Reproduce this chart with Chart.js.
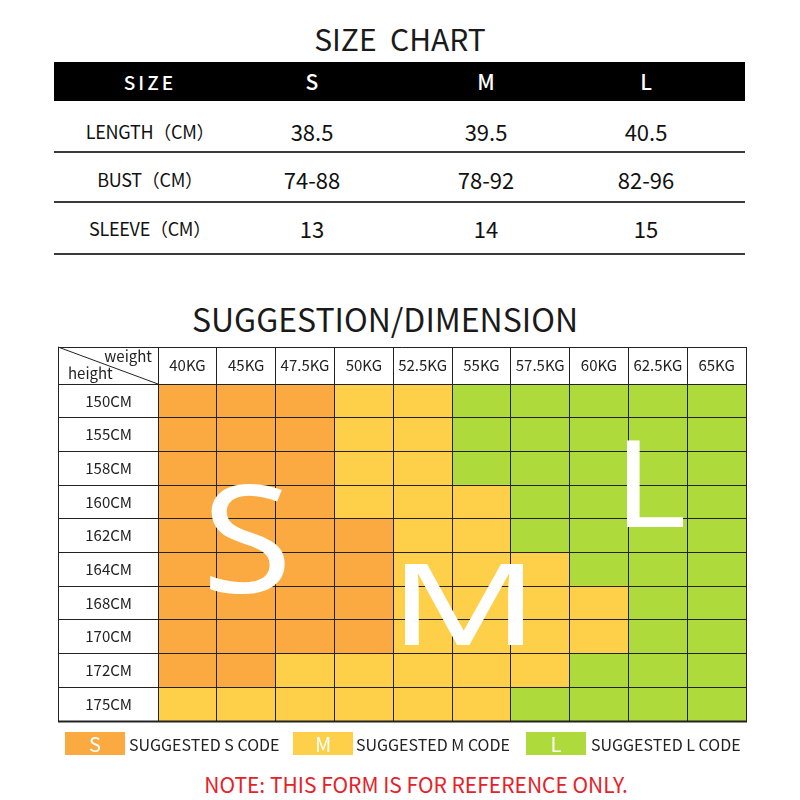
<!DOCTYPE html>
<html>
<head>
<meta charset="utf-8">
<script src="https://cdn.jsdelivr.net/npm/chart.js@4.4.0/dist/chart.umd.min.js"></script>
<style>
  body { margin: 0; background: #fff; }
  #page { position: relative; width: 800px; height: 800px; overflow: hidden;
          font-family: "Noto Sans CJK SC", "Noto Sans", sans-serif; color: #1a1a1a; }
  .abs { position: absolute; white-space: nowrap; line-height: 1; }
  .c { transform: translate(-50%, -50%); }
  .rule { position: absolute; left: 54px; width: 691px; height: 2px; background: #3a3a3a; }
  .box { position: absolute; top: 732px; width: 60px; height: 23px; color: #fff;
         font-size: 20px; line-height: 23px; text-align: center; }
  .lg { position: absolute; top: 744px; font-size: 16px; transform: translateY(-50%); line-height: 1; color: #222; }
  #grid { position: absolute; left: 50px; top: 340px; }
</style>
</head>
<body>
<div id="page">
  <div class="abs c" style="left:400px;top:38px;font-size:30px;">SIZE&nbsp; CHART</div>
  <div style="position:absolute;left:54px;top:62px;width:691px;height:39px;background:#000;"></div>
  <div id="sizeTable"></div>

  <div class="abs c" style="left:385px;top:318px;font-size:32px;">SUGGESTION/DIMENSION</div>
  <canvas id="grid" width="705" height="390"></canvas>

  <div class="box" style="left:65px;background:#FBAA42;">S</div>
  <div class="lg" style="left:129px;">SUGGESTED S CODE</div>
  <div class="box" style="left:293px;background:#FED04A;">M</div>
  <div class="lg" style="left:356px;">SUGGESTED M CODE</div>
  <div class="box" style="left:526px;background:#AFDA3B;">L</div>
  <div class="lg" style="left:591px;">SUGGESTED L CODE</div>

  <div class="abs c" style="left:416px;top:784px;font-size:21px;color:#E62129;">NOTE: THIS FORM IS FOR REFERENCE ONLY.</div>
</div>

<script>
// size chart table
var sizes = ['S', 'M', 'L'];
var measureNames = ['LENGTH（CM）', 'BUST（CM）', 'SLEEVE（CM）'];
var lengthCm = ['38.5', '39.5', '40.5'];
var bustCm = ['74-88', '78-92', '82-96'];
var sleeveCm = ['13', '14', '15'];

// suggestion grid
var weights = ['40KG', '45KG', '47.5KG', '50KG', '52.5KG', '55KG', '57.5KG', '60KG', '62.5KG', '65KG'];
var heights = ['150CM', '155CM', '158CM', '160CM', '162CM', '164CM', '168CM', '170CM', '172CM', '175CM'];
var row150 = ['S', 'S', 'S', 'M', 'M', 'L', 'L', 'L', 'L', 'L'];
var row155 = ['S', 'S', 'S', 'M', 'M', 'L', 'L', 'L', 'L', 'L'];
var row158 = ['S', 'S', 'S', 'M', 'M', 'L', 'L', 'L', 'L', 'L'];
var row160 = ['S', 'S', 'S', 'M', 'M', 'M', 'L', 'L', 'L', 'L'];
var row162 = ['S', 'S', 'S', 'S', 'M', 'M', 'L', 'L', 'L', 'L'];
var row164 = ['S', 'S', 'S', 'S', 'M', 'M', 'M', 'L', 'L', 'L'];
var row168 = ['S', 'S', 'S', 'S', 'M', 'M', 'M', 'M', 'L', 'L'];
var row170 = ['S', 'S', 'S', 'S', 'M', 'M', 'M', 'M', 'L', 'L'];
var row172 = ['S', 'S', 'M', 'M', 'M', 'M', 'M', 'L', 'L', 'L'];
var row175 = ['M', 'M', 'M', 'M', 'M', 'M', 'L', 'L', 'L', 'L'];
var sizeRows = [row150, row155, row158, row160, row162, row164, row168, row170, row172, row175];

var sizeColors = { S: '#FBAA42', M: '#FED04A', L: '#AFDA3B' };
var FONT = '"Noto Sans CJK SC", "Noto Sans", sans-serif';

// --- top table (html) ---
var table = document.getElementById('sizeTable');
var colX = [150, 312, 486, 646];
var rowY = [131, 179, 228];
var ruleY = [151, 201, 253];

function addText(txt, x, y, size, color, extra) {
  var d = document.createElement('div');
  d.className = 'abs c';
  d.textContent = txt;
  d.style.left = x + 'px';
  d.style.top = y + 'px';
  d.style.fontSize = size + 'px';
  if (color) d.style.color = color;
  if (extra) d.style.cssText += extra;
  table.appendChild(d);
}

addText('SIZE', colX[0], 81, 19, '#fff', 'letter-spacing:3px;font-weight:500;');
sizes.forEach(function(s, i) {
  addText(s, colX[i + 1], 81, 21, '#fff', 'font-weight:500;');
});

var rows = [lengthCm, bustCm, sleeveCm];
rows.forEach(function(vals, r) {
  addText(measureNames[r], colX[0], rowY[r], 18, '#111', 'letter-spacing:-0.3px;');
  vals.forEach(function(v, i) {
    addText(v, colX[i + 1], rowY[r], 22, '#111');
  });
  var line = document.createElement('div');
  line.className = 'rule';
  line.style.top = ruleY[r] + 'px';
  table.appendChild(line);
});

// --- grid frame, corner header and big letters ---
var framePlugin = {
  id: 'frame',
  afterDraw: function(chart) {
    var ctx = chart.ctx;
    var area = chart.chartArea;
    var left = chart.scales.y.left;
    var top = chart.scales.x.top;
    ctx.save();
    ctx.strokeStyle = '#222';
    ctx.lineWidth = 1;
    ctx.beginPath();
    ctx.moveTo(left, top + 0.5);
    ctx.lineTo(area.right + 0.5, top + 0.5);
    ctx.moveTo(left + 0.5, top);
    ctx.lineTo(left + 0.5, area.bottom);
    ctx.moveTo(left, top);
    ctx.lineTo(area.left, area.top);
    ctx.stroke();
    ctx.lineWidth = 2;
    ctx.beginPath();
    ctx.moveTo(left, area.bottom + 0.5);
    ctx.lineTo(area.right + 1, area.bottom + 0.5);
    ctx.stroke();

    ctx.fillStyle = '#222';
    ctx.font = '15px ' + FONT;
    ctx.textBaseline = 'alphabetic';
    ctx.textAlign = 'right';
    ctx.fillText('weight', area.left - 6, top + 15);
    ctx.textAlign = 'left';
    ctx.fillText('height', left + 10, area.top - 5);

    // big size letters over the grid
    ctx.fillStyle = '#fff';
    ctx.textAlign = 'center';
    var big = [
      { t: 'S', dx: 89, dy: 209, size: 150, sx: 1.1 },
      { t: 'M', dx: 306, dy: 261, size: 114, sx: 1.45 },
      { t: 'L', dx: 492, dy: 143, size: 121, sx: 1.15 }
    ];
    big.forEach(function(b) {
      ctx.save();
      ctx.translate(area.left + b.dx, area.top + b.dy);
      ctx.scale(b.sx, 1);
      ctx.font = b.size + 'px "Noto Sans", sans-serif';
      ctx.fillText(b.t, 0, 0);
      ctx.restore();
    });
    ctx.restore();
  }
};

var datasets = weights.map(function(w, c) {
  return {
    label: w,
    data: heights.map(function() { return 1; }),
    backgroundColor: sizeRows.map(function(r) { return sizeColors[r[c]]; }),
    borderWidth: 0,
    barPercentage: 1,
    categoryPercentage: 1
  };
});

var ctx = document.getElementById('grid').getContext('2d');
var chart = new Chart(ctx, {
  type: 'bar',
  data: { labels: heights, datasets: datasets },
  options: {
    responsive: false,
    animation: false,
    indexAxis: 'y',
    layout: { padding: { left: 8, top: 7, right: 9, bottom: 9 } },
    plugins: { legend: { display: false }, tooltip: { enabled: false } },
    scales: {
      x: {
        type: 'linear',
        position: 'top',
        stacked: true,
        min: 0,
        max: 10,
        afterBuildTicks: function(s) {
          s.ticks = weights.map(function(w, i) { return { value: i + 0.5 }; });
        },
        afterFit: function(s) { s.height = 37; },
        ticks: {
          autoSkip: false,
          maxRotation: 0,
          padding: -27,
          color: '#222',
          font: { family: FONT, size: 15 },
          callback: function(v, i) { return weights[i]; }
        },
        grid: { offset: true, color: '#222', lineWidth: 1, tickLength: 37, z: 1 },
        border: { display: true, color: '#222', z: 1 }
      },
      y: {
        type: 'category',
        stacked: true,
        position: 'left',
        afterFit: function(s) { s.width = 100; },
        ticks: {
          crossAlign: 'center',
          padding: -74,
          color: '#222',
          font: { family: FONT, size: 15 }
        },
        grid: { offset: true, color: '#222', lineWidth: 1, tickLength: 100, z: 1 },
        border: { display: true, color: '#222', z: 1 }
      }
    }
  },
  plugins: [framePlugin]
});
</script>
</body>
</html>
